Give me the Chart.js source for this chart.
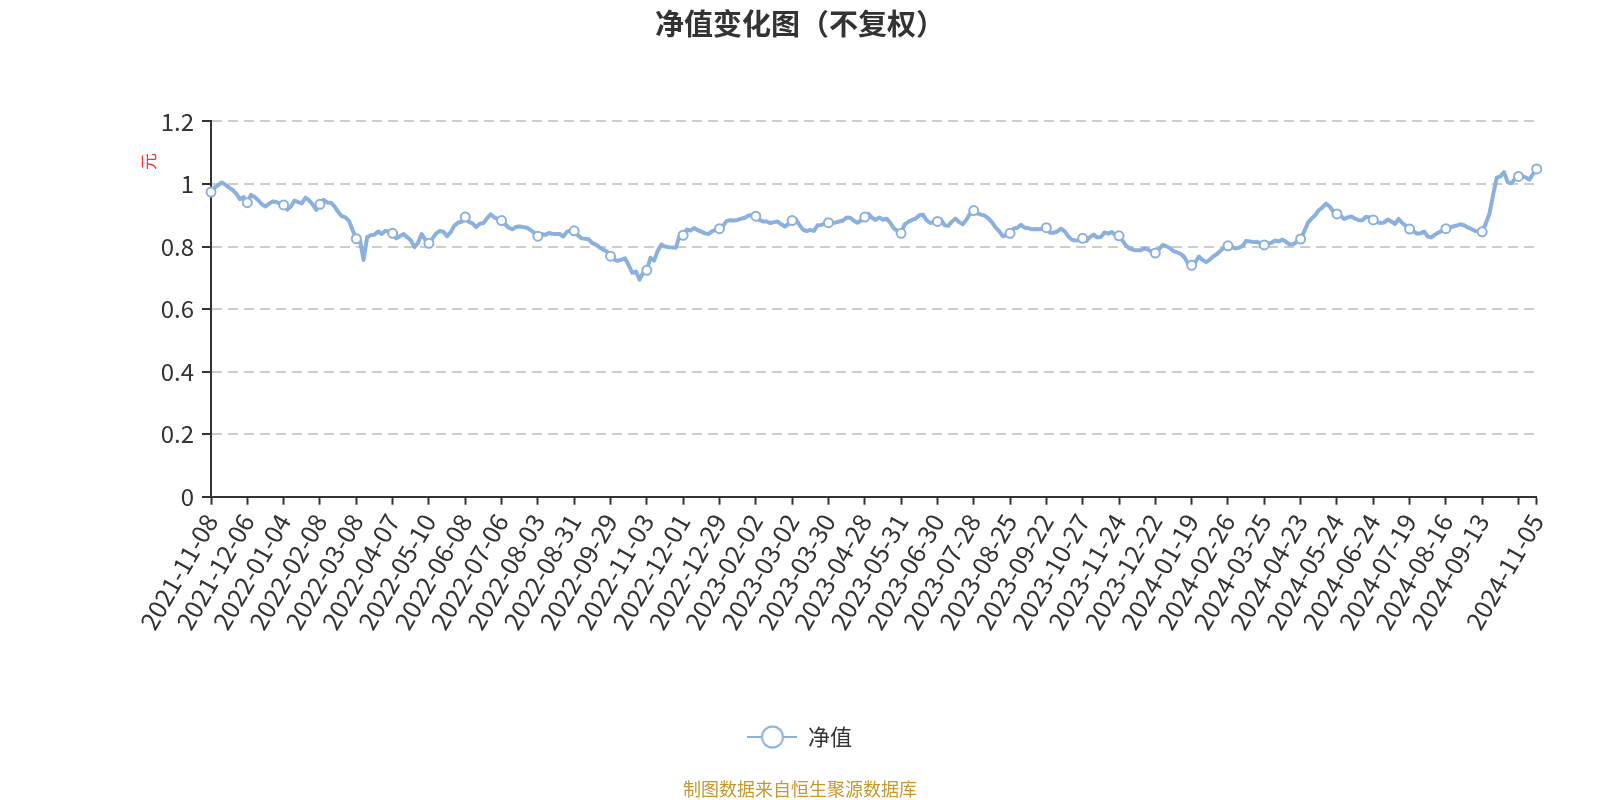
<!DOCTYPE html>
<html>
<head>
<meta charset="utf-8">
<script src="https://cdn.jsdelivr.net/npm/chart.js@4.4.1/dist/chart.umd.min.js"></script>
<style>
  html, body { margin: 0; padding: 0; background: #fff; }
  #wrap { width: 1600px; height: 800px; }
</style>
</head>
<body>
<div id="wrap"><canvas id="grafico" width="1600" height="800"></canvas></div>
<script>
// 单位净值，每两个交易日取一个读数（第 0 个交易日 = 2021-11-08）
const passoAmostra = 2;
const valoresNav = [
  0.974, 0.988, 0.996, 1.005, 0.997, 0.988, 0.980, 0.968, 0.951, 0.958,
  0.940, 0.965, 0.958, 0.948, 0.935, 0.928, 0.937, 0.944, 0.942, 0.937,
  0.933, 0.918, 0.928, 0.947, 0.942, 0.938, 0.956, 0.948, 0.934, 0.917,
  0.935, 0.949, 0.941, 0.940, 0.928, 0.911, 0.897, 0.893, 0.882, 0.852,
  0.825, 0.821, 0.757, 0.830, 0.836, 0.838, 0.848, 0.840, 0.850, 0.848,
  0.842, 0.826, 0.833, 0.840, 0.830, 0.820, 0.798, 0.812, 0.840, 0.822,
  0.810, 0.826, 0.842, 0.850, 0.847, 0.833, 0.846, 0.866, 0.876, 0.879,
  0.894, 0.879, 0.874, 0.862, 0.873, 0.875, 0.890, 0.903, 0.893, 0.888,
  0.883, 0.871, 0.860, 0.855, 0.863, 0.864, 0.862, 0.860, 0.853, 0.843,
  0.833, 0.840, 0.837, 0.843, 0.841, 0.840, 0.840, 0.832, 0.847, 0.852,
  0.850, 0.836, 0.826, 0.825, 0.823, 0.811, 0.806, 0.797, 0.790, 0.784,
  0.769, 0.758, 0.754, 0.758, 0.762, 0.740, 0.716, 0.720, 0.694, 0.716,
  0.724, 0.764, 0.755, 0.786, 0.806, 0.800, 0.798, 0.797, 0.796, 0.835,
  0.836, 0.854, 0.851, 0.859, 0.852, 0.848, 0.842, 0.840, 0.849, 0.853,
  0.857, 0.866, 0.882, 0.884, 0.883, 0.885, 0.889, 0.892, 0.899, 0.901,
  0.897, 0.884, 0.880, 0.880, 0.875, 0.878, 0.880, 0.871, 0.864, 0.872,
  0.883, 0.888, 0.869, 0.854, 0.849, 0.853, 0.850, 0.868, 0.869, 0.873,
  0.876, 0.875, 0.877, 0.880, 0.883, 0.893, 0.892, 0.882, 0.876, 0.884,
  0.894, 0.904, 0.892, 0.885, 0.893, 0.885, 0.889, 0.876, 0.858, 0.850,
  0.842, 0.871, 0.879, 0.885, 0.889, 0.900, 0.902, 0.884, 0.875, 0.879,
  0.880, 0.886, 0.868, 0.866, 0.880, 0.889, 0.878, 0.871, 0.886, 0.905,
  0.915, 0.906, 0.902, 0.899, 0.890, 0.878, 0.861, 0.849, 0.833, 0.836,
  0.842, 0.857, 0.860, 0.869, 0.860, 0.859, 0.855, 0.856, 0.855, 0.858,
  0.860, 0.844, 0.844, 0.848, 0.857, 0.849, 0.833, 0.822, 0.819, 0.820,
  0.826, 0.818, 0.830, 0.838, 0.829, 0.830, 0.845, 0.841, 0.846, 0.837,
  0.834, 0.818, 0.802, 0.793, 0.789, 0.788, 0.788, 0.794, 0.790, 0.783,
  0.779, 0.791, 0.805, 0.801, 0.795, 0.785, 0.781, 0.776, 0.766, 0.746,
  0.740, 0.750, 0.768, 0.757, 0.750, 0.758, 0.769, 0.776, 0.787, 0.797,
  0.802, 0.799, 0.794, 0.796, 0.802, 0.818, 0.816, 0.814, 0.815, 0.810,
  0.805, 0.809, 0.812, 0.819, 0.816, 0.822, 0.815, 0.806, 0.808, 0.815,
  0.824, 0.848, 0.876, 0.889, 0.900, 0.916, 0.925, 0.937, 0.928, 0.912,
  0.904, 0.898, 0.888, 0.893, 0.896, 0.889, 0.884, 0.884, 0.895, 0.893,
  0.885, 0.878, 0.875, 0.877, 0.886, 0.880, 0.872, 0.888, 0.875, 0.866,
  0.856, 0.849, 0.841, 0.842, 0.848, 0.832, 0.829, 0.838, 0.845, 0.850,
  0.857, 0.860, 0.864, 0.867, 0.871, 0.868, 0.861, 0.856, 0.850, 0.848,
  0.847, 0.874, 0.905, 0.965, 1.020, 1.024, 1.038, 1.006, 1.002, 1.016,
  1.024, 1.024, 1.021, 1.014, 1.032, 1.048
];

// 横轴刻度：交易日序号与对应日期（720 处只有刻度线）
const indicesRotulo = [
  0, 20, 40, 60, 80, 100, 120, 140, 160, 180, 200, 220, 240, 260, 280, 300, 320, 340, 360,
  380, 400, 420, 440, 460, 480, 500, 520, 540, 560, 580, 600, 620, 640, 660, 680, 700, 720, 730
];
const rotulosData = [
  "2021-11-08", "2021-12-06", "2022-01-04", "2022-02-08", "2022-03-08", "2022-04-07",
  "2022-05-10", "2022-06-08", "2022-07-06", "2022-08-03", "2022-08-31", "2022-09-29",
  "2022-11-03", "2022-12-01", "2022-12-29", "2023-02-02", "2023-03-02", "2023-03-30",
  "2023-04-28", "2023-05-31", "2023-06-30", "2023-07-28", "2023-08-25", "2023-09-22",
  "2023-10-27", "2023-11-24", "2023-12-22", "2024-01-19", "2024-02-26", "2024-03-25",
  "2024-04-23", "2024-05-24", "2024-06-24", "2024-07-19", "2024-08-16", "2024-09-13",
  "", "2024-11-05"
];

const nomeSerie = "净值";
const titulo = "净值变化图（不复权）";
const unidadeY = "元";
const fonte = "制图数据来自恒生聚源数据库";

const corLinha = "#8cb0de";
const familia = "'Noto Sans CJK SC', 'Noto Sans', sans-serif";

const pontos = valoresNav.map((v, k) => ({ x: k * passoAmostra, y: v }));
const ultimo = pontos.length - 1;

// ícone da legenda: linha com círculo no meio
const iconeLegenda = document.createElement("canvas");
iconeLegenda.width = 50;
iconeLegenda.height = 26;
{
  const c = iconeLegenda.getContext("2d");
  c.strokeStyle = corLinha;
  c.lineWidth = 2;
  c.beginPath();
  c.moveTo(0, 13);
  c.lineTo(50, 13);
  c.stroke();
  c.beginPath();
  c.arc(25, 13, 10.5, 0, Math.PI * 2);
  c.fillStyle = "#fff";
  c.fill();
  c.stroke();
}

const pluginUnidade = {
  id: "unidadeY",
  afterDraw(chart) {
    const { ctx, chartArea } = chart;
    ctx.save();
    ctx.translate(chartArea.left - 62, chartArea.top + 40);
    ctx.rotate(-Math.PI / 2);
    ctx.fillStyle = "#f33";
    ctx.font = "17px " + familia;
    ctx.textAlign = "center";
    ctx.textBaseline = "middle";
    ctx.fillText(unidadeY, 0, 0);
    ctx.restore();
  }
};

new Chart(document.getElementById("grafico").getContext("2d"), {
  type: "line",
  data: {
    datasets: [{
      label: nomeSerie,
      data: pontos,
      borderColor: corLinha,
      borderWidth: 4,
      borderJoinStyle: "round",
      tension: 0,
      fill: false,
      clip: false,
      pointRadius: ctx => (ctx.dataIndex * passoAmostra) % 20 === 0 || ctx.dataIndex === ultimo ? 4.5 : 0,
      pointHoverRadius: 4.5,
      pointBackgroundColor: "#fff",
      pointBorderColor: corLinha,
      pointBorderWidth: 2
    }]
  },
  options: {
    responsive: false,
    animation: false,
    devicePixelRatio: 1,
    layout: { padding: 0 },
    scales: {
      x: {
        type: "linear",
        min: 0,
        max: 730,
        afterBuildTicks: escala => {
          escala.ticks = indicesRotulo.map(v => ({ value: v }));
        },
        afterFit: escala => { escala.height = 219.3; },
        ticks: {
          autoSkip: false,
          minRotation: 60,
          maxRotation: 60,
          padding: 4,
          color: "#333",
          font: { family: familia, size: 25 },
          callback: (valor, indice) => rotulosData[indice]
        },
        grid: {
          drawOnChartArea: false,
          drawTicks: true,
          tickLength: 8,
          tickWidth: 2,
          tickColor: "#333"
        },
        border: { color: "#333", width: 2 }
      },
      y: {
        min: 0,
        max: 1.2,
        afterFit: escala => { escala.width = 211; },
        ticks: {
          stepSize: 0.2,
          padding: 8,
          color: "#333",
          font: { family: familia, size: 24 },
          callback: valor => String(Number(valor.toFixed(1)))
        },
        grid: {
          color: ctx => ctx.tick && ctx.tick.value === 0 ? "rgba(0,0,0,0)" : "#ccc",
          lineWidth: 2,
          tickLength: 9,
          tickWidth: 2,
          tickColor: "#333",
          tickBorderDash: []
        },
        border: { color: "#333", width: 2, dash: [10, 6] }
      },
      // espaço vazio à direita da área do gráfico
      margemDireita: {
        type: "linear",
        position: "right",
        display: true,
        afterFit: escala => { escala.width = 63.3; },
        ticks: { display: false },
        grid: { display: false, drawTicks: false },
        border: { display: false }
      }
    },
    plugins: {
      title: {
        display: true,
        text: titulo,
        color: "#333",
        font: { family: familia, size: 29, weight: "bold" },
        padding: { top: 6.2, bottom: 80.4 }
      },
      subtitle: {
        display: true,
        position: "bottom",
        text: fonte,
        color: "#c8972f",
        font: { family: familia, size: 18, weight: "normal" },
        padding: { top: 20, bottom: 0.4 }
      },
      legend: {
        display: true,
        position: "bottom",
        labels: {
          usePointStyle: true,
          pointStyleWidth: 49,
          padding: 10,
          color: "#333",
          font: { family: familia, size: 22 },
          generateLabels: () => [{
            text: nomeSerie,
            pointStyle: iconeLegenda,
            fontColor: "#333",
            hidden: false,
            datasetIndex: 0,
            lineWidth: 0
          }]
        }
      },
      tooltip: { enabled: false }
    }
  },
  plugins: [pluginUnidade]
});
</script>
</body>
</html>
